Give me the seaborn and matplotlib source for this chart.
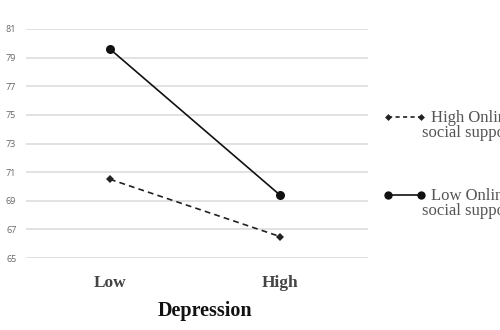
import matplotlib
matplotlib.use("Agg")
import matplotlib.pyplot as plt
import seaborn as sns
import pandas as pd
from matplotlib.lines import Line2D

depression = ["Low", "High"]
high_support = [70.5, 66.5]
low_support = [79.6, 69.4]
yticks = [65, 67, 69, 71, 73, 75, 77, 79, 81]
series_labels = [["High Online", "social support"], ["Low Online", "social support"]]

sns.set_theme(style="white")
plt.rcParams["font.family"] = ["Liberation Serif", "DejaVu Serif"]

W, H = 500, 330
fig = plt.figure(figsize=(5, 3.3), dpi=100)
ax = fig.add_axes([26 / W, 1 - 258 / H, 342 / W, 229 / H])

df_h = pd.DataFrame({"Depression": depression, "Score": high_support})
df_l = pd.DataFrame({"Depression": depression, "Score": low_support})

sns.lineplot(data=df_h, x="Depression", y="Score", ax=ax, color="#222222",
             linestyle=(0, (3.5, 2.5)), linewidth=1.2, marker="D", markersize=4,
             markeredgewidth=0, sort=False)
sns.lineplot(data=df_l, x="Depression", y="Score", ax=ax, color="#111111",
             linestyle="-", linewidth=1.2, marker="o", markersize=6.5,
             markeredgewidth=0, sort=False)

ax.set_xlim(-0.494, 1.518)
ax.set_ylim(65, 81)
ax.set_yticks(yticks)
ax.set_yticklabels([str(v) for v in yticks], fontsize=6.5, color="#666666",
                   family=["Open Sans", "DejaVu Sans"])
ax.yaxis.grid(True, color="#dddddd", linewidth=1.2)
ax.xaxis.grid(False)
for s in ax.spines.values():
    s.set_visible(False)
ax.tick_params(axis="y", length=0, pad=7)
ax.tick_params(axis="x", length=0, pad=12)
ax.set_xticks([0, 1])
ax.set_xticklabels(depression, fontsize=12.5, fontweight="bold", color="#444444")
ax.set_xlabel("Depression", fontsize=14.5, fontweight="bold", color="#111111")
ax.xaxis.set_label_coords((205 - 26) / 342, (258 - 311) / 229)
ax.xaxis.label.set_va("center")
ax.set_ylabel("")

# legend drawn at figure pixel positions (outside axes, clipped at right like the original)
styles = [
    dict(color="#222222", linestyle=(0, (2.5, 2)), linewidth=1.2, marker="D",
         markersize=3.5, markeredgewidth=0),
    dict(color="#111111", linestyle="-", linewidth=1.2, marker="o",
         markersize=6, markeredgewidth=0),
]
handle_y = [117, 195]
for st, hy, lab in zip(styles, handle_y, series_labels):
    fig.add_artist(Line2D([388 / W, 421 / W], [1 - hy / H, 1 - hy / H],
                          transform=fig.transFigure, **st))
    fig.text(431 / W, 1 - (hy + 5) / H, lab[0], ha="left", va="baseline",
             fontsize=12, color="#555555")
    fig.text(422 / W, 1 - (hy + 20) / H, lab[1], ha="left", va="baseline",
             fontsize=12, color="#555555")

fig.savefig("out.png", dpi=100)
